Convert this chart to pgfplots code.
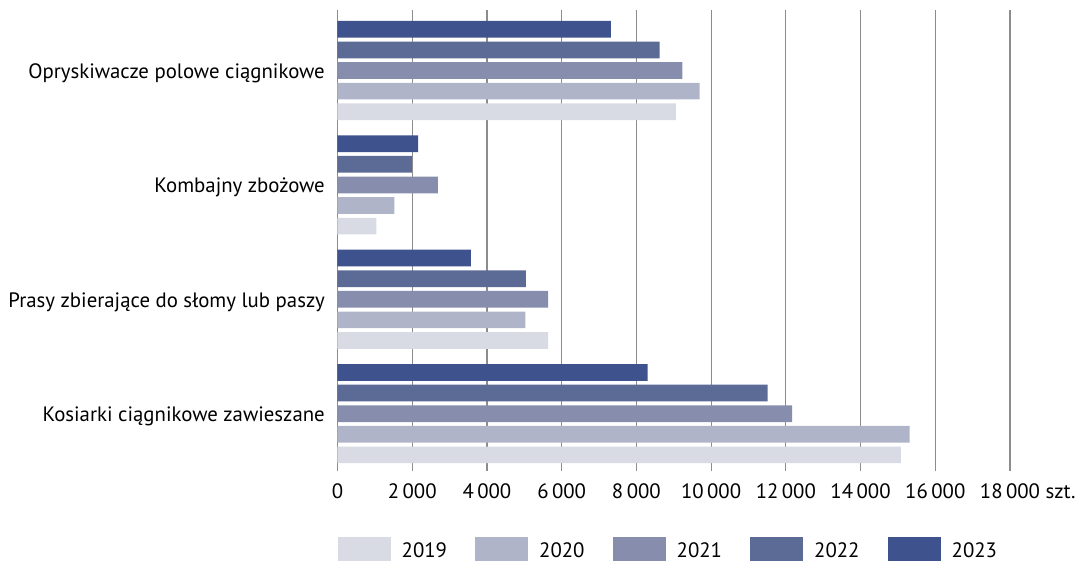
\documentclass[border=0pt]{standalone}
\usepackage{fontspec}
\setmainfont{PT Sans}
\usepackage{pgfplots}
\usepackage{pgfplotstable}
\pgfplotsset{compat=1.18}
\definecolor{c2019}{HTML}{D8DBE4}
\definecolor{c2020}{HTML}{AFB4C8}
\definecolor{c2021}{HTML}{878EAD}
\definecolor{c2022}{HTML}{5C6A96}
\definecolor{c2023}{HTML}{3E538D}
\definecolor{gridc}{HTML}{8C8C8C}
\pgfplotstableread{
y v2019 v2020 v2021 v2022 v2023
0 15080 15310 12170 11510 8300
1 5640 5030 5640 5040 3570
2 1040 1520 2690 1990 2160
3 9060 9690 9230 8620 7320
}\data
\begin{document}
\fontsize{20.8}{24}\selectfont
\begin{tikzpicture}
\begin{axis}[
  at={(0,0)}, anchor=south west,
  scale only axis, width=672.5pt, height=461pt,
  xbar, bar width=16.7pt,
  xmin=0, xmax=18000, ymin=-0.501, ymax=3.529,
  scaled x ticks=false,
  xtick={0,2000,4000,6000,8000,10000,12000,14000,16000,18000},
  xticklabels={0,2\,000,4\,000,6\,000,8\,000,10\,000,12\,000,14\,000,16\,000,18\,000\rlap{\ szt.}},
  ytick={0,1,2,3},
  yticklabels={Kosiarki ciągnikowe zawieszane,Prasy zbierające do słomy lub paszy,Kombajny zbożowe,Opryskiwacze polowe ciągnikowe},
  axis lines*=left,
  axis line style={-},
  x axis line style={draw=none},
  y axis line style={draw=gridc, line width=1.2pt},
  major tick length=0pt,
  xmajorgrids,
  grid style={draw=gridc, line width=1.2pt},
  every tick label/.append style={font=\fontsize{20.8}{24}\selectfont},
  xticklabel style={anchor=base, yshift=-27pt},
  yticklabel style={anchor=base east, inner xsep=0pt, xshift=-12.5pt, yshift=-7.8pt},
  legend columns=5,
  legend style={at={(0,0)}, anchor=north west, yshift=-66pt, draw=none, fill=none,
    inner sep=0pt, column sep=0pt, font=\fontsize{20.8}{24}\selectfont,
    nodes={inner sep=0pt, anchor=base west}},
  legend image code/.code={\fill[#1] (0pt,-5pt) rectangle (53pt,20pt);},
]
\addplot[fill=c2019, draw=none, bar shift=-41.2pt] table[x=v2019, y=y] {\data};
\addlegendentry{\hspace*{11pt}\makebox[73.5pt][l]{2019}}
\addplot[fill=c2020, draw=none, bar shift=-20.6pt] table[x=v2020, y=y] {\data};
\addlegendentry{\hspace*{11pt}\makebox[73.5pt][l]{2020}}
\addplot[fill=c2021, draw=none, bar shift=0pt] table[x=v2021, y=y] {\data};
\addlegendentry{\hspace*{11pt}\makebox[73.5pt][l]{2021}}
\addplot[fill=c2022, draw=none, bar shift=20.6pt] table[x=v2022, y=y] {\data};
\addlegendentry{\hspace*{11pt}\makebox[73.5pt][l]{2022}}
\addplot[fill=c2023, draw=none, bar shift=41.2pt] table[x=v2023, y=y] {\data};
\addlegendentry{\hspace*{11pt}\makebox[73.5pt][l]{2023}}
\end{axis}
\pgfresetboundingbox
\path[use as bounding box] (-337.5pt,-89pt) rectangle (738.5pt,471pt);
\end{tikzpicture}
\end{document}
